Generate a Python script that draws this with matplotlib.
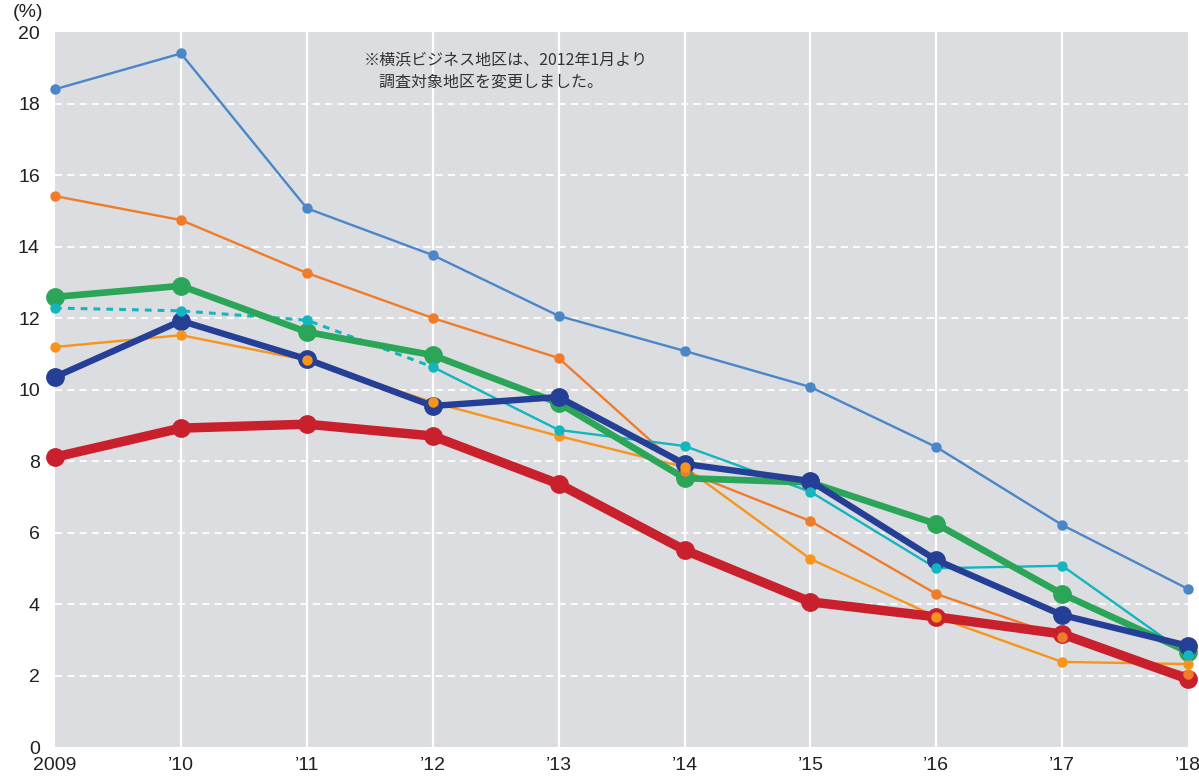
import matplotlib
matplotlib.use("Agg")
import matplotlib.pyplot as plt

plt.rcParams['font.family'] = ['Liberation Sans', 'Noto Sans CJK JP', 'DejaVu Sans']

years = ["2009", "\u201910", "\u201911", "\u201912", "\u201913",
         "\u201914", "\u201915", "\u201916", "\u201917", "\u201918"]

# thin series
sky = [18.4, 19.4, 15.07, 13.76, 12.06, 11.08, 10.07, 8.39, 6.21, 4.42]
dark_orange = [15.41, 14.74, 13.26, 12.0, 10.88, 7.72, 6.32, 4.28, 3.08, 2.04]
light_orange = [11.19, 11.52, 10.82, 9.64, 8.7, 7.83, 5.26, 3.64, 2.38, 2.32]
teal = [12.28, 12.2, 11.94, 10.63, 8.87, 8.42, 7.14, 5.0, 5.07, 2.57]

# thick series
green = [12.59, 12.9, 11.61, 10.96, 9.62, 7.52, 7.4, 6.24, 4.28, 2.66]
navy = [10.35, 11.92, 10.85, 9.54, 9.79, 7.92, 7.44, 5.23, 3.69, 2.83]
red = [8.11, 8.92, 9.03, 8.7, 7.36, 5.51, 4.06, 3.64, 3.16, 1.9]

note = "\u203b横浜ビジネス地区は、2012年1月より\n　調査対象地区を変更しました。"

x = list(range(len(years)))

fig = plt.figure(figsize=(11.99, 7.77), dpi=100)
ax = fig.add_axes([0.0459, 0.0386, 0.945, 0.9202])
ax.set_facecolor("#dcdde0")
for s in ax.spines.values():
    s.set_visible(False)

ax.set_xlim(0, 9)
ax.set_ylim(0, 20)

# grid: solid verticals, dashed horizontals
for xi in x[1:-1]:
    ax.axvline(xi, color="white", lw=1.6, zorder=1)
for yv in range(2, 20, 2):
    ax.axhline(yv, color="white", lw=1.3, ls=(0, (4, 2.8)), zorder=1)

thin_lw = 1.7
thin_ms = 6.5


def thin(vals, color, ls="-"):
    ax.plot(x, vals, color=color, lw=thin_lw, ls=ls, zorder=3, clip_on=False)
    ax.plot(x, vals, ls="none", marker="o", ms=thin_ms, color=color,
            zorder=6, clip_on=False)


thin(sky, "#4a86c8")
thin(dark_orange, "#f07c2a")
thin(light_orange, "#f7941d")

# teal: dashed until 2012, solid afterwards
ax.plot(x[:4], teal[:4], color="#13b5bf", lw=2.2, ls=(0, (2.2, 2.0)),
        zorder=3, clip_on=False)
ax.plot(x[3:], teal[3:], color="#13b5bf", lw=thin_lw, zorder=3, clip_on=False)
ax.plot(x, teal, ls="none", marker="o", ms=thin_ms, color="#13b5bf",
        zorder=6, clip_on=False)

ax.plot(x, green, color="#2ba658", lw=4.8, marker="o", ms=12.5,
        zorder=4, clip_on=False)
ax.plot(x, navy, color="#243f95", lw=4.6, marker="o", ms=12.5,
        zorder=4.5, clip_on=False)
ax.plot(x, red, color="#c9202d", lw=6.8, marker="o", ms=12.5,
        zorder=5, clip_on=False)

ax.set_xticks(x)
ax.set_xticklabels(years)
ax.set_yticks(range(0, 21, 2))
ax.tick_params(length=0, labelsize=14, colors="#231f20")
ax.tick_params(axis="x", pad=7)
ax.tick_params(axis="y", pad=11)

fig.text(0.0105, 0.984, "(%)", fontsize=14, color="#231f20", va="center")

ax.text(2.45, 19.45, note, fontsize=11.5, color="#333333", va="top",
        linespacing=1.35, family=['Noto Sans CJK JP', 'DejaVu Sans'])

fig.savefig("out.png", dpi=100)
